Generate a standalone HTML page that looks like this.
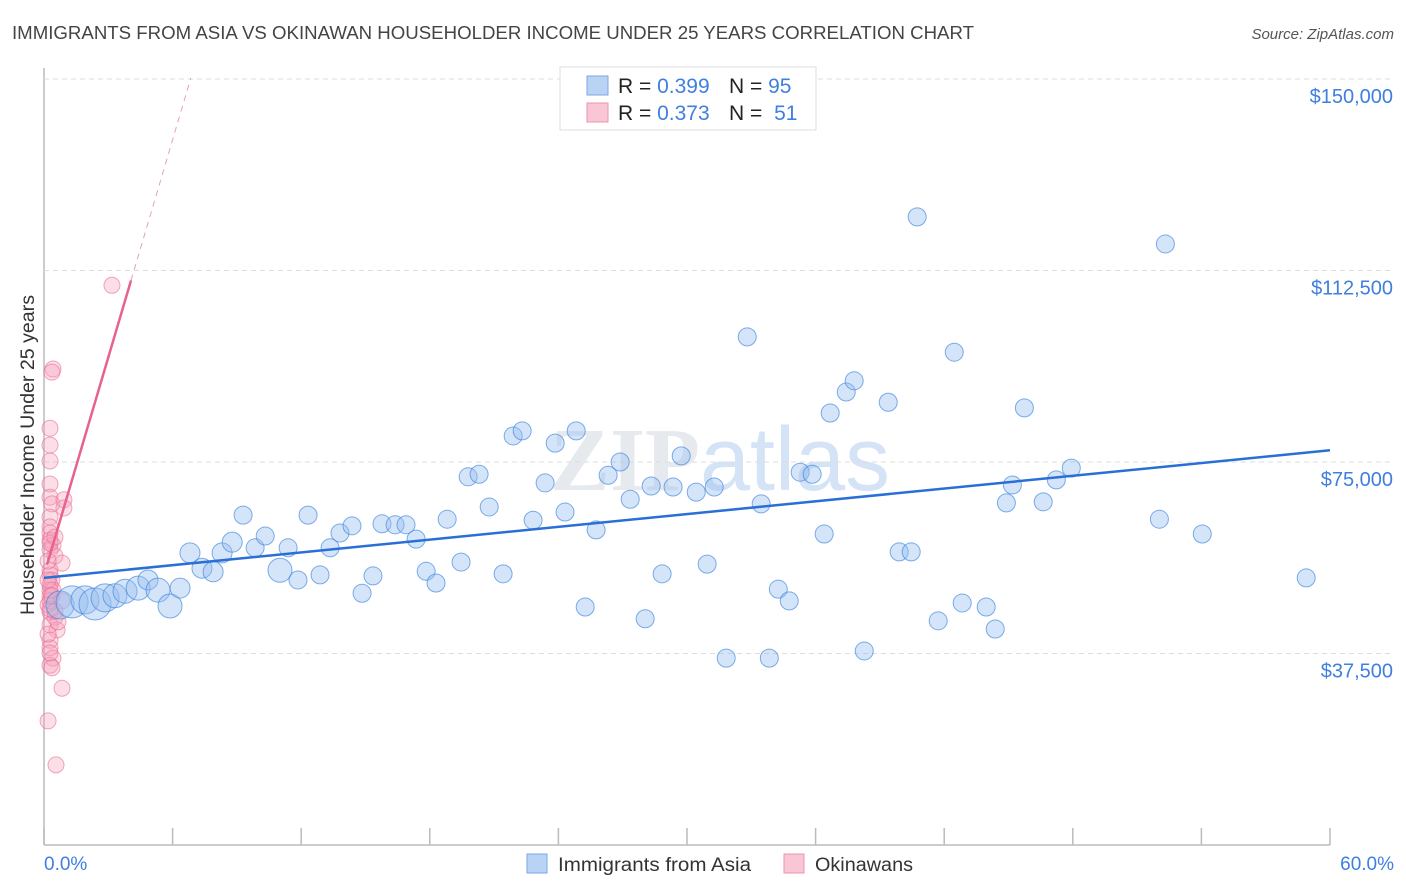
<!DOCTYPE html>
<html><head><meta charset="utf-8">
<style>
body{margin:0;background:#fff;font-family:"Liberation Sans",sans-serif;}
#wrap{position:relative;width:1406px;height:892px;overflow:hidden;}
svg{position:absolute;left:0;top:0;}
</style></head>
<body>
<div id="wrap">
<svg id="chart" width="1406" height="892" xmlns="http://www.w3.org/2000/svg">
<text x="12" y="39" font-size="18" fill="#444" textLength="962" lengthAdjust="spacingAndGlyphs">IMMIGRANTS FROM ASIA VS OKINAWAN HOUSEHOLDER INCOME UNDER 25 YEARS CORRELATION CHART</text>
<text x="1394" y="39" font-size="15" fill="#555" font-style="italic" text-anchor="end">Source: ZipAtlas.com</text>
<text x="720" y="490" font-size="90" fill="#e6e9ee" text-anchor="middle" font-family="Liberation Serif,serif" font-weight="bold">ZIP<tspan fill="#d4e3f5" font-family="Liberation Sans,sans-serif" font-weight="normal">atlas</tspan></text>
<text transform="translate(34,455) rotate(-90)" font-size="19" fill="#333" text-anchor="middle" textLength="320" lengthAdjust="spacingAndGlyphs">Householder Income Under 25 years</text>
<text x="44" y="870" font-size="19" fill="#3f7fdf">0.0%</text>
<text x="1394" y="870" font-size="19" fill="#3f7fdf" text-anchor="end">60.0%</text>
<g id="grid"></g><g id="pts"></g><g id="lines"></g>
<g>
<rect x="560" y="67" width="256" height="63" fill="#fff" stroke="#ddd"/>
<rect x="587" y="76" width="21" height="19" fill="#b9d3f5" stroke="#7aa7e6"/>
<rect x="587" y="103" width="21" height="19" fill="#f9c6d5" stroke="#ee93ad"/>
<text x="618" y="93" font-size="21" fill="#222">R = <tspan fill="#3f7fdf">0.399</tspan><tspan x="729">N = </tspan><tspan fill="#3f7fdf">95</tspan></text>
<text x="618" y="120" font-size="21" fill="#222">R = <tspan fill="#3f7fdf">0.373</tspan><tspan x="729">N = </tspan><tspan fill="#3f7fdf" dx="6">51</tspan></text>
</g>
<g>
<rect x="527" y="854" width="20" height="19" fill="#b9d3f5" stroke="#7aa7e6"/>
<text x="558" y="871" font-size="19" fill="#333" textLength="193" lengthAdjust="spacingAndGlyphs">Immigrants from Asia</text>
<rect x="784" y="854" width="20" height="19" fill="#f9c6d5" stroke="#ee93ad"/>
<text x="815" y="871" font-size="19" fill="#333" textLength="98" lengthAdjust="spacingAndGlyphs">Okinawans</text>
</g>
</svg>
</div>
<script>
const yTicks=[37500,75000,112500,150000];
const yTickLabels=["$37,500","$75,000","$112,500","$150,000"];
const xTicks=[0,6,12,18,24,30,36,42,48,54,60];
const blueX=[0.75,1.31,1.91,2.38,2.85,3.31,3.78,4.39,4.85,5.32,5.88,6.35,6.81,7.37,7.89,8.31,8.78,9.29,9.85,10.32,11.01,11.39,11.85,12.32,12.88,13.35,13.81,14.37,14.84,15.35,15.77,16.38,16.89,17.36,17.83,18.29,18.81,19.46,19.79,20.30,20.77,21.42,21.89,22.31,22.82,23.38,23.85,24.31,24.83,25.25,25.76,26.32,26.88,27.35,28.05,28.33,28.84,29.35,29.73,30.43,30.94,31.27,31.83,32.81,33.46,33.84,34.26,34.77,35.28,35.84,36.40,36.68,37.43,37.80,38.27,39.39,39.90,40.46,40.74,41.72,42.47,42.84,43.96,44.38,44.90,45.18,45.74,46.62,47.23,47.93,52.04,52.32,54.04,58.89];
const blueY=[47.0,47.6,48.0,47.2,48.4,48.8,49.7,50.3,51.9,49.9,46.8,50.3,57.2,54.2,53.5,57.2,59.3,64.6,58.2,60.5,53.8,58.2,51.9,64.6,52.9,58.2,61.1,62.5,49.3,52.7,62.9,62.7,62.7,59.9,53.6,51.3,63.8,55.4,72.1,72.6,66.2,53.1,80.1,81.1,63.6,70.9,78.7,65.2,81.1,46.6,61.7,72.4,75.0,67.7,44.3,70.3,53.1,70.1,76.2,69.1,55.0,70.1,36.6,99.5,66.8,36.6,50.1,47.8,73.0,72.6,60.9,84.6,88.7,90.9,38.0,86.7,57.4,57.4,123.0,43.9,96.5,47.4,46.6,42.3,67.0,70.5,85.6,67.2,71.5,73.8,63.8,117.7,60.9,52.3];
const blueSize=[14,16,14,16,14,12,12,12,10,12,12,10,10,10,10,10,10,9,9,9,12];
const pinkX=[3.17,0.42,0.37,0.28,0.28,0.28,0.28,0.28,0.37,0.93,0.93,0.28,0.28,0.28,0.28,0.42,0.28,0.51,0.84,0.28,0.28,0.37,0.28,0.42,0.28,0.19,0.28,0.51,0.28,0.61,0.28,0.28,0.42,0.28,0.37,0.84,0.19,0.56,0.28,0.28,0.65,0.19,0.28,0.51,0.28,0.37,0.19,0.28,0.84,0.51,0.19];
const pinkY=[109.6,93.2,92.6,81.6,78.3,75.2,70.7,68.1,66.8,67.6,66.0,64.2,62.3,61.1,59.7,58.7,57.8,56.6,55.2,53.8,52.9,51.9,50.9,49.9,48.8,47.0,45.6,44.6,43.1,42.1,40.1,38.6,36.6,35.2,34.7,30.7,24.3,15.7,47.8,46.2,43.7,55.6,59.1,60.3,49.9,48.8,41.3,37.6,47.8,45.8,51.9];
const blueTrend=[52.3,77.3];
const pinkTrend=[52.9,14.2];
const X=p=>44+p*(1330-44)/60;
const Y=v=>845-v/150000*766;
const NS="http://www.w3.org/2000/svg";
function mk(parent,tag,attrs){const e=document.createElementNS(NS,tag);for(const k in attrs)e.setAttribute(k,attrs[k]);parent.appendChild(e);return e;}
const grid=document.getElementById('grid');
const ax=mk(grid,'line',{x1:44,y1:68,x2:44,y2:845,stroke:'#bbb','stroke-width':1.5});


const bx=mk(grid,'line',{x1:44,y1:845,x2:1330,y2:845,stroke:'#bbb','stroke-width':1.5});


yTicks.forEach((t,i)=>{
 const g=mk(grid,'line',{x1:44,y1:Y(t),x2:1394,y2:Y(t),stroke:'#ddd','stroke-dasharray':'5,4'});
 
 
 const tx=mk(grid,'text',{x:1393,y:Y(t)+24,'font-size':20,fill:'#3f7fdf','text-anchor':'end'});
 tx.textContent=yTickLabels[i];
 
 
});
xTicks.forEach(t=>{
 const l=mk(grid,'line',{x1:X(t),y1:828,x2:X(t),y2:845,stroke:'#bbb','stroke-width':1.5});
 
 
});
const pts=document.getElementById('pts');
pinkX.forEach((p,i)=>{
 const c=mk(pts,'circle',{cx:X(p),cy:Y(pinkY[i]*1000),r:8,fill:'rgba(246,160,185,0.35)',stroke:'rgba(232,110,150,0.6)','stroke-width':1});
 
 
});
blueX.forEach((p,i)=>{
 const c=mk(pts,'circle',{cx:X(p),cy:Y(blueY[i]*1000),r:blueSize[i]||9,fill:'rgba(150,190,240,0.4)',stroke:'rgba(60,130,220,0.65)','stroke-width':1});
 
 
});
const lines=document.getElementById('lines');
const bl=mk(lines,'line',{x1:X(0),y1:Y(blueTrend[0]*1000),x2:X(60),y2:Y(blueTrend[1]*1000),stroke:'#2a6fd6','stroke-width':2.5});


const pv=p=>(pinkTrend[0]+pinkTrend[1]*p)*1000;
const pl=mk(lines,'line',{x1:X(0.14),y1:Y(pv(0.14)),x2:X(4.06),y2:Y(pv(4.06)),stroke:'#e8628e','stroke-width':2.5});


const pd=mk(lines,'line',{x1:X(4.06),y1:Y(pv(4.06)),x2:X(6.85),y2:Y(pv(6.85)),stroke:'#e8a0b8','stroke-width':1,'stroke-dasharray':'6,5'});


</script>
</body></html>
